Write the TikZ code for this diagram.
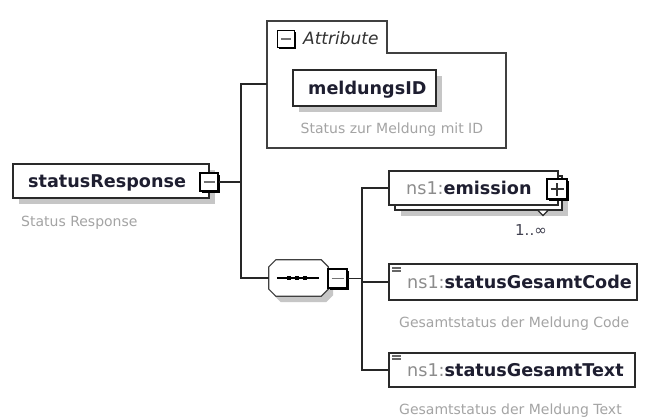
\documentclass[tikz,border=0pt]{standalone}
\usepackage{fontspec}
\setmainfont{DejaVu Sans}
\usetikzlibrary{shadows}
\definecolor{namecol}{HTML}{1E1E30}
\definecolor{nscol}{HTML}{8C8C8C}
\definecolor{desccol}{HTML}{A4A4A4}
\definecolor{shadowcol}{HTML}{C6C6C6}
\definecolor{bordercol}{HTML}{2A2A2A}
\begin{document}
\begin{tikzpicture}[x=1pt,y=-1pt,
  elbox/.style={draw=bordercol, line width=1.3pt, fill=white, inner sep=0pt},
  shadowed/.style={drop shadow={shadow xshift=6pt,shadow yshift=-6pt,fill=shadowcol,opacity=1}},
  elname/.style={font=\fontsize{17.6}{20}\selectfont\bfseries, text=namecol, inner sep=0pt, anchor=base west},
  desc/.style={font=\fontsize{14}{16}\selectfont, text=desccol, inner sep=0pt, anchor=base west},
  iconbox/.style={draw=black, line width=1.3pt, fill=white, minimum size=18pt, inner sep=0pt,
     drop shadow={shadow xshift=1.8pt,shadow yshift=-1.8pt,fill=black,opacity=1}},
  minusicon/.style={iconbox, path picture={\draw[black!55, line width=1.3pt]
     ([xshift=3.5pt]path picture bounding box.west) -- ([xshift=-3.5pt]path picture bounding box.east);}},
  plusicon/.style={iconbox, path picture={\draw[black!80, line width=1.1pt]
     ([xshift=3.5pt]path picture bounding box.west) -- ([xshift=-3.5pt]path picture bounding box.east)
     ([yshift=3.5pt]path picture bounding box.south) -- ([yshift=-3.5pt]path picture bounding box.north);}},
  wire/.style={draw=black!85, line width=1.2pt},
  elicon/.style={fill=black!60, minimum width=9pt, minimum height=5pt, inner sep=0pt,
     path picture={\draw[white, line width=0.6pt] (path picture bounding box.west) -- (path picture bounding box.east);}}
]
\useasboundingbox[fill=white] (0,0) rectangle (647,417);

% ---------- statusResponse ----------
\node[elbox, shadowed, minimum width=196pt, minimum height=34pt] (sr) at (111,181) {};
\node[elname] (srname) at (28,187.5) {statusResponse};
\node[minusicon] (srm) at (209,182) {};
\node[desc] (srdesc) at (21,226.5) {Status Response};

% ---------- attribute container ----------
\draw[draw=black!75, line width=1.2pt, fill=white] (267,148) -- (267,21) -- (387,21) -- (387,53) -- (506,53) -- (506,148) -- cycle;
\coordinate (attrL) at (267,84);
\node[minusicon, minimum size=17pt] (attrm) at (286,39) {};
\node[font=\fontsize{17}{20}\selectfont\itshape, text=black!80, inner sep=0pt, anchor=base west] (attrlabel) at (303,44.5) {Attribute};
\node[elbox, shadowed, minimum width=143pt, minimum height=36pt] (mid) at (364.5,88) {};
\node[elname] (midname) at (308,94.5) {meldungsID};
\node[desc] (middesc) at (300.5,133) {Status zur Meldung mit ID};

% ---------- sequence ----------
\node[minimum width=59pt, minimum height=36pt, inner sep=0pt] (seq) at (298.5,278) {};
\fill[shadowcol] ([shift={(5,6)}]seq.north west) ++(0,7) -- ++(7,-7) -- ([shift={(-2,6)}]seq.north east) -- ++(7,7)
   -- ([shift={(5,-1)}]seq.south east) -- ++(-7,7) -- ([shift={(12,6)}]seq.south west) -- ++(-7,-7) -- cycle;
\draw[draw=black!75, line width=1.2pt, fill=white] ([shift={(0,7)}]seq.north west) -- ([shift={(7,0)}]seq.north west)
   -- ([shift={(-7,0)}]seq.north east) -- ([shift={(0,7)}]seq.north east) -- ([shift={(0,-7)}]seq.south east)
   -- ([shift={(-7,0)}]seq.south east) -- ([shift={(7,0)}]seq.south west) -- ([shift={(0,-7)}]seq.south west) -- cycle;
\draw[line width=1.3pt] ([xshift=8pt]seq.west) -- ([xshift=-9pt]seq.east);
\foreach \dx in {-9.5,-1.5,6.5} \fill ([xshift=\dx pt]seq.center) ++(-2.3,-2.3) rectangle ++(4.6,4.6);
\node[minusicon, minimum size=19pt] (seqm) at (337.5,278.5) {};

% ---------- emission ----------
\node[elbox, shadowed, minimum width=167pt, minimum height=34pt] (emback) at (478.5,193) {};
\draw[draw=bordercol, line width=1.1pt, fill=white] (537.5,210) -- (548.5,210) -- (543,215.5) -- cycle;
\node[elbox, minimum width=169pt, minimum height=34pt] (em) at (473.5,188) {};
\node[elname] (emname) at (406,194) {\textcolor{nscol}{\mdseries ns1:}emission};
\node[plusicon, minimum size=20pt] (emp) at (557,189) {};
\node[font=\fontsize{15}{17}\selectfont, text=namecol!85, inner sep=0pt, anchor=base west] (emcard) at (515,235) {1..∞};

% ---------- statusGesamtCode ----------
\node[elbox, minimum width=248pt, minimum height=36pt] (code) at (513,282) {};
\node[elicon] (codeicon) at (396.5,269.5) {};
\node[elname] (codename) at (407,288.5) {\textcolor{nscol}{\mdseries ns1:}statusGesamtCode};
\node[desc] (codedesc) at (399,327) {Gesamtstatus der Meldung Code};

% ---------- statusGesamtText ----------
\node[elbox, minimum width=246pt, minimum height=34pt] (txt) at (512,370) {};
\node[elicon] (txticon) at (396.5,357.5) {};
\node[elname] (txtname) at (407,376.5) {\textcolor{nscol}{\mdseries ns1:}statusGesamtText};
\node[desc] (txtdesc) at (399,414.5) {Gesamtstatus der Meldung Text};

% ---------- connectors ----------
\coordinate (v1) at (241,182);
\draw[wire] (srm.east) -- (v1);
\draw[wire] (attrL) -- (attrL -| v1) -- (seq.west -| v1) -- (seq.west);
\coordinate (v2) at (362,278.5);
\draw[wire] (seqm.east) -- (v2);
\draw[wire] (em.west) -- (em.west -| v2) -- (txt.west -| v2) -- (txt.west);
\draw[wire] (code.west -| v2) -- (code.west);
\end{tikzpicture}
\end{document}
